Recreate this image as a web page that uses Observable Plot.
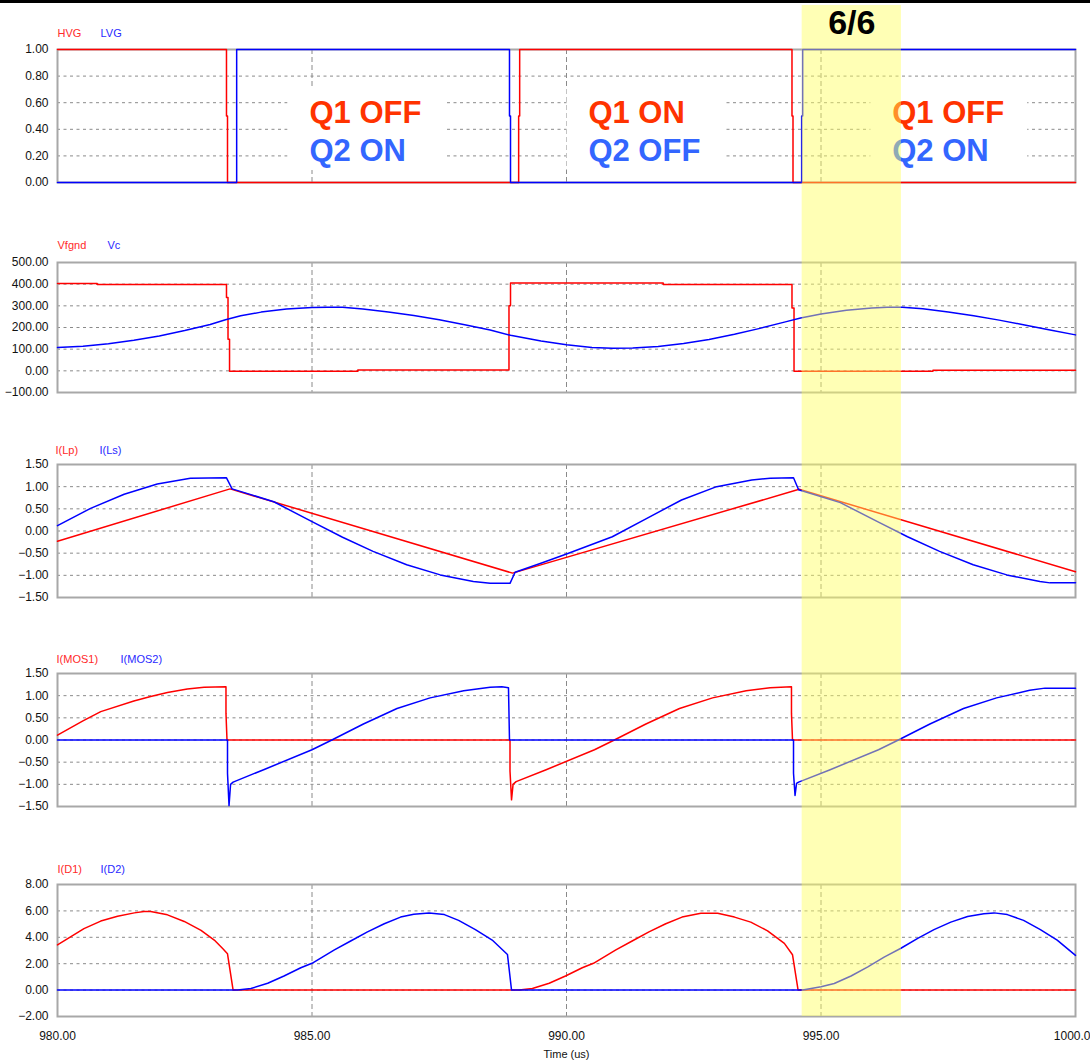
<!DOCTYPE html>
<html>
<head>
<meta charset="utf-8">
<script src="https://cdn.jsdelivr.net/npm/d3@7"></script>
<script src="https://cdn.jsdelivr.net/npm/@observablehq/plot@0.6"></script>
<style>
  body { margin: 0; background: #fff; }
  #root { position: relative; width: 1090px; height: 1064px; overflow: hidden; background: #fff; font-family: "Liberation Sans", Arial, sans-serif; }
  #root svg { position: absolute; left: 0; }
  #topbar { position: absolute; left: 0; top: 0; width: 1090px; height: 3px; background: #000; }
</style>
</head>
<body>
<div id="root"><div id="topbar"></div></div>
<script>
// ---------- data (time in us, value) ----------
const X_TICKS = [980, 985, 990, 995, 1000];
const TICKS_GATE = [0, 0.2, 0.4, 0.6, 0.8, 1];
const TICKS_VOLT = [-100, 0, 100, 200, 300, 400, 500];
const TICKS_CUR = [-1.5, -1, -0.5, 0, 0.5, 1, 1.5];
const TICKS_DIODE = [-2, 0, 2, 4, 6, 8];

const HVG = [[980,1],[983.32,1],[983.32,0.5],[983.34,0.5],[983.34,0],[989.06,0],[989.06,0.5],[989.08,0.5],[989.08,1],[994.43,1],[994.43,0.5],[994.45,0.5],[994.45,0],[1000,0]];
const LVG = [[980,0],[983.52,0],[983.52,1],[988.88,1],[988.88,0.5],[988.9,0.5],[988.9,0],[994.62,0],[994.62,0.5],[994.64,0.5],[994.64,1],[1000,1]];

const VFGND = [[980,403],[980.78,403],[980.78,398],[983.32,398],[983.32,338],[983.35,338],[983.35,146],[983.38,146],[983.38,-2],[985.9,-2],[985.9,4],[988.87,4],[988.87,300],[988.9,300],[988.9,405],[991.9,405],[991.9,399],[994.43,399],[994.43,290],[994.47,290],[994.47,-2],[997.2,-2],[997.2,3],[1000,3]];
const VC = [[980,108],[980.5,114],[981,125],[981.5,141],[982,161],[982.5,186],[983,214],[983.3,236],[983.6,254],[984,271],[984.5,285],[985,292],[985.3,294],[985.6,293],[986,285],[986.5,272],[987,255],[987.5,236],[988,213],[988.5,188],[988.9,164],[989.5,138],[990,120],[990.5,108],[990.9,104],[991.3,105],[991.8,112],[992.3,126],[992.8,145],[993.3,169],[993.8,196],[994.3,226],[994.6,244],[995,262],[995.5,280],[996,290],[996.3,293],[996.6,293],[997,286],[997.5,272],[998,254],[998.5,234],[999,212],[999.5,188],[1000,166]];

const LP = [[980,-0.23],[983.39,0.95],[988.94,-0.95],[994.57,0.94],[1000,-0.92]];
const LS = [[980,0.12],[980.65,0.51],[981.31,0.83],[981.96,1.06],[982.61,1.19],[983.32,1.2],[983.43,0.95],[984.25,0.66],[985,0.21],[985.6,-0.14],[986.2,-0.46],[986.86,-0.76],[987.52,-0.99],[988.17,-1.14],[988.5,-1.18],[988.89,-1.18],[988.99,-0.93],[989.51,-0.72],[990,-0.52],[990.9,-0.13],[991.57,0.28],[992.26,0.7],[992.95,1.0],[993.64,1.15],[994.0,1.19],[994.46,1.2],[994.56,0.93],[995.38,0.64],[996.13,0.2],[996.7,-0.13],[997.33,-0.46],[997.99,-0.76],[998.65,-0.99],[999.3,-1.14],[999.5,-1.17],[1000,-1.17]];

const MOS1 = [[980,0.11],[980.5,0.43],[980.85,0.64],[981.5,0.88],[981.83,0.98],[982.16,1.07],[982.55,1.15],[982.88,1.19],[983.31,1.2],[983.31,0.6],[983.33,0],[988.89,0],[988.89,-0.7],[988.92,-1.35],[988.95,-1.0],[989.01,-0.94],[989.6,-0.67],[990.55,-0.22],[990.94,0],[991.56,0.36],[992.22,0.71],[992.87,0.95],[993.53,1.11],[994.0,1.18],[994.42,1.2],[994.42,0.6],[994.44,0],[1000,0]];
const MOS2 = [[980,0],[983.34,0],[983.34,-0.75],[983.37,-1.48],[983.4,-1.0],[983.45,-0.95],[984.05,-0.67],[985,-0.22],[985.39,0],[986.01,0.36],[986.67,0.71],[987.32,0.95],[987.98,1.11],[988.5,1.19],[988.73,1.2],[988.86,1.18],[988.88,0],[994.46,0],[994.46,-0.75],[994.49,-1.25],[994.52,-0.98],[994.56,-0.95],[995.18,-0.67],[996.13,-0.22],[996.52,0],[997.14,0.36],[997.8,0.71],[998.45,0.95],[999.1,1.12],[999.4,1.17],[1000,1.17]];

const D1 = [[980,3.42],[980.52,4.66],[980.85,5.23],[981.18,5.6],[981.51,5.85],[981.7,5.95],[981.83,5.95],[982.16,5.7],[982.49,5.2],[982.82,4.53],[983.08,3.79],[983.24,3.17],[983.34,2.75],[983.45,0],[989.07,0],[989.33,0.12],[989.66,0.52],[989.98,1.07],[990.31,1.69],[990.53,2.03],[990.97,3.05],[991.29,3.72],[991.62,4.41],[991.95,5.03],[992.27,5.53],[992.64,5.82],[992.97,5.82],[993.3,5.53],[993.62,5.15],[993.95,4.49],[994.28,3.54],[994.44,2.68],[994.55,0],[1000,0]];
const D2 = [[980,0],[983.54,0],[983.8,0.12],[984.13,0.52],[984.45,1.07],[984.78,1.69],[985,2.03],[985.44,3.05],[985.76,3.72],[986.09,4.41],[986.42,5.03],[986.74,5.53],[987.0,5.75],[987.3,5.85],[987.6,5.72],[987.88,5.28],[988.21,4.58],[988.54,3.79],[988.84,2.7],[988.92,0],[994.64,0],[995,0.25],[995.26,0.5],[995.59,1.07],[995.92,1.76],[996.24,2.5],[996.57,3.17],[996.9,3.92],[997.22,4.58],[997.55,5.15],[997.88,5.58],[998.2,5.78],[998.4,5.85],[998.66,5.72],[998.98,5.28],[999.31,4.58],[999.64,3.79],[1000,2.63]];

const STATES = [
  {t: 984.95, q1: "Q1 OFF", q2: "Q2 ON"},
  {t: 990.43, q1: "Q1 ON", q2: "Q2 OFF"},
  {t: 996.40, q1: "Q1 OFF", q2: "Q2 ON"}
];
const HIGHLIGHT = [{from: 994.63, to: 996.58, label: "6/6"}];

// ---------- styling ----------
const RED = "#ff0000", BLUE = "#0000ff";
const LABEL_RED = "#ff2a2a", LABEL_BLUE = "#2a2aff";
const Q1_COLOR = "#ff3300", Q2_COLOR = "#3366ff";
const FONT = "Liberation Sans, Arial, sans-serif";
const fmt = d3.format(".2f");
const rows = (pairs) => pairs.map(([t, v]) => ({t, v}));

const panels = [
  {top: 49, bottom: 182, domain: [0, 1], ticks: TICKS_GATE, names: ["HVG", "LVG"], series: [HVG, LVG], dx: [0, 43], dy: -16},
  {top: 262, bottom: 392, domain: [-100, 500], ticks: TICKS_VOLT, names: ["Vfgnd", "Vc"], series: [VFGND, VC], dx: [0, 50], dy: -17},
  {top: 464, bottom: 597, domain: [-1.5, 1.5], ticks: TICKS_CUR, names: ["I(Lp)", "I(Ls)"], series: [LP, LS], dx: [-2, 42], dy: -14},
  {top: 673, bottom: 806, domain: [-1.5, 1.5], ticks: TICKS_CUR, names: ["I(MOS1)", "I(MOS2)"], series: [MOS1, MOS2], dx: [-1, 63], dy: -14},
  {top: 884, bottom: 1016, domain: [-2, 8], ticks: TICKS_DIODE, names: ["I(D1)", "I(D2)"], series: [D1, D2], dx: [0, 43], dy: -15, xAxis: true}
];

const root = document.getElementById("root");
const ML = 57, MR = 15, W = 1090;

panels.forEach((p, i) => {
  const mt = 30, mb = p.xAxis ? 48 : 6;
  const H = (p.bottom - p.top) + mt + mb;
  const marks = [
    Plot.ruleY(p.ticks.slice(1, -1), {stroke: "#8a8a8a", strokeDasharray: "3,3.5", strokeWidth: 1}),
    Plot.ruleX(X_TICKS.slice(1, -1), {stroke: "#8a8a8a", strokeDasharray: "5,3", strokeWidth: 1})
  ];
  if (i === 0) {
    marks.push(Plot.rect(STATES, {x1: d => d.t - 0.42, x2: d => d.t + 2.66, y1: () => 0.09, y2: () => 0.72, fill: "white"}));
  }
  marks.push(Plot.frame({stroke: "#a8a8a8", strokeWidth: 2}));
  p.series.forEach((s, k) => {
    marks.push(Plot.line(rows(s), {x: "t", y: "v", stroke: k === 0 ? RED : BLUE, strokeWidth: 1.5}));
    marks.push(Plot.text([p.names[k]], {frameAnchor: "top-left", textAnchor: "start", lineAnchor: "middle", dx: p.dx[k], dy: p.dy, fill: k === 0 ? LABEL_RED : LABEL_BLUE, fontSize: 11}));
  });
  if (i === 0) {
    marks.push(Plot.text(STATES, {x: "t", y: () => 0.446, text: "q1", textAnchor: "start", lineAnchor: "bottom", fill: Q1_COLOR, fontSize: 31, fontWeight: "bold", fontFamily: FONT}));
    marks.push(Plot.text(STATES, {x: "t", y: () => 0.162, text: "q2", textAnchor: "start", lineAnchor: "bottom", fill: Q2_COLOR, fontSize: 31, fontWeight: "bold", fontFamily: FONT}));
  }
  marks.push(Plot.axisY({ticks: p.ticks, tickFormat: fmt, tickSize: 0, tickPadding: 9, fontSize: 12, label: null}));
  if (p.xAxis) {
    marks.push(Plot.axisX({ticks: X_TICKS, tickFormat: fmt, tickSize: 0, tickPadding: 15, fontSize: 12, label: null}));
    marks.push(Plot.text(["Time (us)"], {frameAnchor: "bottom", lineAnchor: "middle", dy: 38, fontSize: 11}));
  }
  const svg = Plot.plot({
    width: W, height: H,
    marginLeft: ML, marginRight: MR, marginTop: mt, marginBottom: mb,
    x: {domain: [980, 1000], axis: p.xAxis ? undefined : null},
    y: {domain: p.domain},
    style: {background: "transparent", overflow: "visible", fontFamily: FONT, color: "#111"},
    marks
  });
  svg.style.position = "absolute";
  svg.style.top = (p.top - mt) + "px";
  svg.style.left = "0px";
  root.appendChild(svg);
});

// overlay highlight band across all panels
const overlay = Plot.plot({
  width: W, height: 1064,
  marginLeft: ML, marginRight: MR, marginTop: 5, marginBottom: 48,
  x: {domain: [980, 1000], axis: null},
  y: {domain: [0, 1], axis: null},
  style: {background: "transparent", overflow: "visible", fontFamily: FONT},
  marks: [
    Plot.rect(HIGHLIGHT, {x1: "from", x2: "to", y1: () => 0, y2: () => 1, fill: "#ffff5a", fillOpacity: 0.45}),
    Plot.text(HIGHLIGHT, {x: d => (d.from + d.to) / 2, frameAnchor: "top", lineAnchor: "middle", dy: 18, text: "label", fontSize: 34, fontWeight: "bold", fill: "#000", fontFamily: FONT})
  ]
});
overlay.style.position = "absolute";
overlay.style.top = "0px";
overlay.style.left = "0px";
overlay.style.pointerEvents = "none";
root.appendChild(overlay);
</script>
</body>
</html>
